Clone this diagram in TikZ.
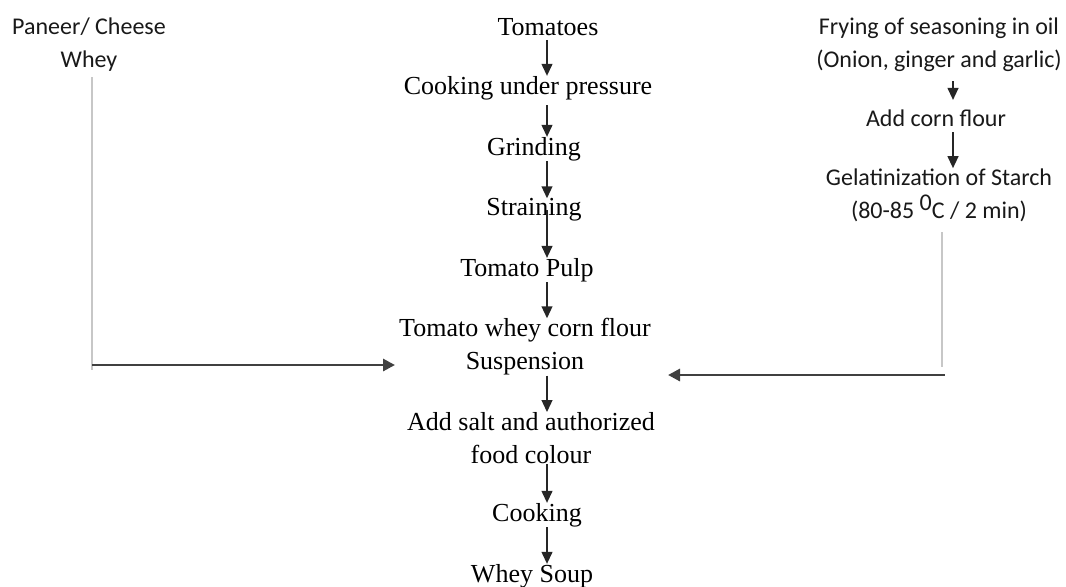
\documentclass[tikz,border=0pt]{standalone}
\usepackage{fontspec}
\setmainfont{Liberation Serif}
\newfontfamily\calib{Carlito}
\usetikzlibrary{arrows.meta}
\tikzset{
  serifbox/.style={inner sep=0pt, align=center, text=black, font=\fontsize{19.5}{24.75}\selectfont},
  sansbox/.style={inner sep=0pt, align=center, text=black!90, font=\calib\fontsize{18}{24.75}\selectfont},
  flow/.style={draw=black!85, line width=1.5pt, -{Triangle[length=9pt,width=8pt]}},
  inflow/.style={draw=black!75, line width=2.2pt, -{Triangle[length=9pt,width=9pt]}},
  feed/.style={draw=black!22, line width=1.8pt},
}
\begin{document}
\begin{tikzpicture}[x=0.75pt,y=-0.75pt]
\useasboundingbox (0,0) rectangle (1066,586);
\coordinate (spine) at (547,0);
\coordinate (rspine) at (953,0);
\node[serifbox] (tm0) at (548,27){Tomatoes};
\node[serifbox] (tm1) at (528,88){Cooking under pressure};
\node[serifbox] (tm2) at (534,149){Grinding};
\node[serifbox] (tm3) at (534,210){Straining};
\node[serifbox] (tm4) at (527,270){Tomato Pulp};
\node[serifbox] (tm5) at (525,347){Tomato whey corn flour\\Suspension};
\node[serifbox] (tm6) at (531,438){Add salt and authorized\\food colour};
\node[serifbox] (tm7) at (537,515){Cooking};
\node[serifbox] (tm8) at (532,576){Whey Soup};
\draw[flow, shorten <=3pt](tm0.south -| spine) -- (tm1.north -| spine);
\draw[flow, shorten <=4pt](tm1.south -| spine) -- (tm2.north -| spine);
\draw[flow](tm2.south -| spine) -- (tm3.north -| spine);
\draw[flow](tm3.center -| spine) -- (tm4.north -| spine);
\draw[flow](tm4.south -| spine) -- (tm5.north -| spine);
\draw[flow](tm5.south -| spine) -- (tm6.north -| spine);
\draw[flow](tm6.south -| spine) -- (tm7.north -| spine);
\draw[flow](tm7.south -| spine) -- (tm8.north -| spine);

\node[sansbox] (ls0) at (89,45){Paneer/ Cheese\\Whey};
\coordinate (lbend) at (92,365);
\coordinate (lin) at (395,365);
\draw[feed, shorten <=4pt](ls0.south -| lbend) -- ([yshift=-4pt]lbend);
\draw[inflow](lbend) -- (lin);

\node[sansbox] (rs0) at (939,45){Frying of seasoning in oil\\(Onion, ginger and garlic)};
\node[sansbox] (rs1) at (936,118){Add corn flour};
\node[sansbox] (rs2) at (939,195){Gelatinization of Starch\\(80-85 \raisebox{0.3em}{0}C / 2 min)};
\draw[flow, shorten <=7pt, shorten >=7pt](rs0.south -| rspine) -- (rs1.north -| rspine);
\draw[flow, shorten <=4pt](rs1.south -| rspine) -- (rs2.north -| rspine);
\coordinate (rbend) at (942,375);
\coordinate (rin) at (668,375);
\draw[feed, shorten <=8pt](rs2.south -| rbend) -- ([yshift=6pt]rbend);
\draw[inflow]([xshift=2pt]rbend) -- (rin);
\end{tikzpicture}
\end{document}
